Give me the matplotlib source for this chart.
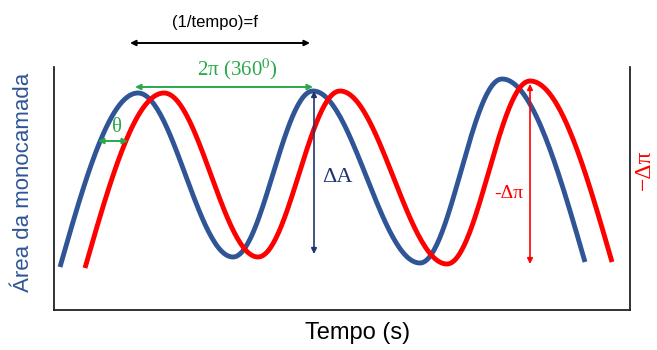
import numpy as np
import matplotlib.pyplot as plt

# Pontos-chave das curvas (tempo, valor):
# primeiro e último são as pontas livres, o resto são picos e vales
area_t = [6, 84, 179, 259, 366, 448, 531]
area_y = [43, 217, 53, 219, 47, 231, 48]

pressao_t = [31, 110, 204, 286, 393, 476, 558]
pressao_y = [42, 217, 53, 219, 46, 229, 48]

blue = '#2f5597'
red = '#ff0000'
green = '#2aa84a'
navy = '#1f3370'


def curva(kt, ky, n=60):
    # meia-onda em cosseno entre extremos; quarto de onda nas pontas livres
    xs, ys = [], []
    last = len(kt) - 2
    for i in range(len(kt) - 1):
        x0, x1 = kt[i], kt[i + 1]
        y0, y1 = ky[i], ky[i + 1]
        s = np.linspace(0, 1, n)
        if i == 0:
            y = y0 + (y1 - y0) * np.sin(np.pi / 2 * s)
        elif i == last:
            y = y1 + (y0 - y1) * np.cos(np.pi / 2 * s)
        else:
            y = y1 + (y0 - y1) * (1 + np.cos(np.pi * s)) / 2
        xs.append(x0 + (x1 - x0) * s)
        ys.append(y)
    return np.concatenate(xs), np.concatenate(ys)


fig = plt.figure(figsize=(6.57, 3.5), dpi=100)
ax = fig.add_axes([54 / 657, 1 - 310 / 350, (630 - 54) / 657, (310 - 67) / 350])
ax.set_xlim(0, 576)
ax.set_ylim(0, 243)

x, y = curva(area_t, area_y)
ax.plot(x, y, color=blue, lw=3.5, solid_capstyle='butt')
x, y = curva(pressao_t, pressao_y)
ax.plot(x, y, color=red, lw=3.5, solid_capstyle='butt')

ax.spines['top'].set_visible(False)
for s in ['left', 'right', 'bottom']:
    ax.spines[s].set_color('#222222')
    ax.spines[s].set_linewidth(1.3)
ax.set_xticks([])
ax.set_yticks([])

serif = 'Liberation Serif'
sans = 'Liberation Sans'
plt.rcParams['mathtext.fontset'] = 'stix'


def seta(x0, y0, x1, y1, cor, lw=1.4):
    ax.annotate('', xy=(x1, y1), xytext=(x0, y0), annotation_clip=False,
                arrowprops=dict(arrowstyle='<|-|>', color=cor, lw=lw,
                                mutation_scale=8, shrinkA=0, shrinkB=0))


# periodo
seta(76, 267, 256, 267, 'black')
ax.text(161, 287, '(1/tempo)=f', family=sans, fontsize=12, ha='center',
        va='center', clip_on=False)

seta(81, 223, 259, 223, green)
ax.text(183, 241, r'2π (360$^0$)', family=serif, fontsize=15, color=green,
        ha='center', va='center', clip_on=False)

# fase
seta(44, 169, 74, 169, green)
ax.text(63, 183, 'θ', family=serif, fontsize=15, color=green,
        ha='center', va='center')

# amplitudes
seta(260, 219, 260, 56, navy, lw=1.2)
ax.text(283, 133, 'ΔA', family=serif, fontsize=16, color=navy,
        ha='center', va='center')

seta(476, 226, 476, 46, red, lw=1.2)
ax.text(455, 116, '-Δπ', family=serif, fontsize=14, color=red,
        ha='center', va='center')

ax.set_xlabel('Tempo (s)', family=sans, fontsize=17)
ax.xaxis.set_label_coords((358 - 54) / 576, -(322 - 310) / 243)
ax.set_ylabel('Área da monocamada', family=sans, fontsize=16, color=blue)
ax.yaxis.set_label_coords(-(54 - 34) / 576, (310 - 182) / 243)
fig.text(644 / 657, 1 - 170 / 350, '−Δπ', family=serif, fontsize=17,
         color=red, rotation=90, ha='center', va='center')

fig.savefig('out.png', dpi=100)
